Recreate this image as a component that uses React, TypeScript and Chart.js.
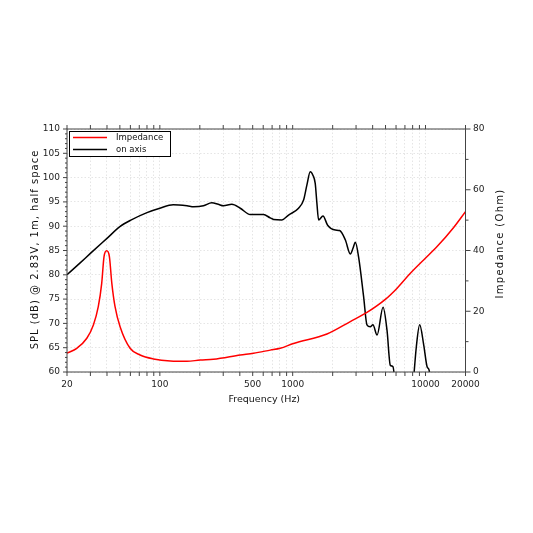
import { useEffect, useRef } from "react";
import { Chart, registerables } from "chart.js";

Chart.register(...registerables);

// on-axis SPL (dB), left axis
const splFreq = [
  20, 25, 30, 40, 50, 61, 80, 100, 126, 160, 180, 213, 246, 275, 301, 348, 403, 479, 569, 602, 678,
  718, 830, 931, 1107, 1208, 1280, 1356, 1420, 1478, 1522, 1567, 1691, 1833, 2094, 2256, 2490,
  2716, 2850, 2961, 3134, 3420, 3624, 3840, 4020, 4320, 4790, 5130, 5430, 5690, 5930, 7000, 8050,
  8530, 9040, 9690, 10280, 10640, 11000,
];
const splDb = [
  80.0, 82.4, 84.4, 87.5, 89.9, 91.3, 92.8, 93.7, 94.4, 94.2, 94.0, 94.2, 94.8, 94.5, 94.2, 94.5,
  93.7, 92.4, 92.4, 92.4, 91.7, 91.4, 91.3, 92.3, 93.7, 95.4, 98.5, 101.2, 100.5, 98.8, 94.7, 91.3,
  92.1, 90.2, 89.2, 89.1, 87.2, 84.3, 85.5, 86.7, 83.7, 75.5, 69.7, 69.3, 69.7, 67.6, 73.3, 68.6,
  61.4, 61.1, 57, null, 57, 65.2, 69.7, 65.6, 61.1, 60.4, 57,
];

// impedance (Ohm), right axis
const impFreq = [
  20, 23.7, 28.2, 31.6, 34.4, 36.5, 38, 39.8, 41.7, 43.5, 46, 50.2, 59.7, 71, 89.4, 120, 160, 201,
  253, 403, 507, 678, 806, 1015, 1812, 2716, 3624, 4980, 6110, 7690, 9680, 12220, 16290, 20000,
];
const impOhm = [
  6.2, 7.8, 11.1, 15.5, 21.5, 29.2, 38, 39.9, 38, 29.2, 21.5, 14.9, 7.8, 5.6, 4.3, 3.6, 3.5, 3.95,
  4.2, 5.6, 6.2, 7.2, 7.8, 9.4, 12.5, 16.6, 19.6, 23.9, 27.6, 32.5, 36.9, 41.3, 47.6, 52.8,
];

const gridFreqs = [
  20, 30, 40, 50, 60, 70, 80, 90, 100, 200, 300, 400, 500, 600, 700, 800, 900, 1000, 2000, 3000,
  4000, 5000, 6000, 7000, 8000, 9000, 10000, 20000,
];
const freqLabels = [20, 100, 500, 1000, 10000, 20000];
const splTicks = [60, 65, 70, 75, 80, 85, 90, 95, 100, 105, 110];
const impTicks = [0, 20, 40, 60, 80];

const seriesNames = ["Impedance", "on axis"];
const seriesColors = ["#ff0000", "#000000"];

const FONT = "DejaVu Sans";

const framePlugin = {
  id: "frame",
  afterDraw(chart: any) {
    const { ctx, chartArea: a, scales } = chart;
    ctx.save();
    ctx.strokeStyle = "#444";
    ctx.lineWidth = 1;
    ctx.strokeRect(a.left, a.top, a.right - a.left, a.bottom - a.top);

    ctx.beginPath();
    // x ticks, bottom and top, outside
    gridFreqs.forEach((f) => {
      const x = scales.x.getPixelForValue(f);
      ctx.moveTo(x, a.bottom);
      ctx.lineTo(x, a.bottom + 4);
      ctx.moveTo(x, a.top);
      ctx.lineTo(x, a.top - 4);
    });
    // left ticks every dB
    for (let v = 60; v <= 110; v++) {
      const y = scales.y.getPixelForValue(v);
      const len = v % 5 === 0 ? 4 : 2;
      ctx.moveTo(a.left, y);
      ctx.lineTo(a.left - len, y);
    }
    // right ticks every 10 ohm
    for (let v = 0; v <= 80; v += 10) {
      const y = scales.y1.getPixelForValue(v);
      const len = v % 20 === 0 ? 5 : 3;
      ctx.moveTo(a.right, y);
      ctx.lineTo(a.right + len, y);
    }
    ctx.stroke();

    // axis titles
    ctx.fillStyle = "#111";
    ctx.textAlign = "center";
    ctx.textBaseline = "middle";
    ctx.font = `10px ${FONT}`;
    ctx.save();
    (ctx as any).letterSpacing = "1px";
    ctx.translate(a.left - 32, (a.top + a.bottom) / 2 - 1);
    ctx.rotate(-Math.PI / 2);
    ctx.fillText("SPL (dB) @ 2.83V, 1m, half space", 0, 0);
    ctx.restore();
    ctx.save();
    (ctx as any).letterSpacing = "1.3px";
    ctx.translate(a.right + 34.5, (a.top + a.bottom) / 2 - 7);
    ctx.rotate(-Math.PI / 2);
    ctx.fillText("Impedance (Ohm)", 0, 0);
    ctx.restore();
    ctx.font = `9.5px ${FONT}`;
    ctx.fillText("Frequency (Hz)", (a.left + a.right) / 2 - 2, a.bottom + 28);

    // legend box inside the plot
    const bx = a.left + 2;
    const by = a.top + 2;
    ctx.fillStyle = "#fff";
    ctx.fillRect(bx, by, 101, 25);
    ctx.strokeStyle = "#000";
    ctx.strokeRect(bx + 0.5, by + 0.5, 101, 25);
    ctx.font = `8.5px ${FONT}`;
    ctx.textAlign = "left";
    seriesNames.forEach((name, i) => {
      const ly = by + 6.5 + i * 12;
      ctx.strokeStyle = seriesColors[i];
      ctx.lineWidth = 1.5;
      ctx.beginPath();
      ctx.moveTo(bx + 4, ly);
      ctx.lineTo(bx + 38, ly);
      ctx.stroke();
      ctx.fillStyle = "#111";
      ctx.fillText(name, bx + 47, ly);
    });
    ctx.restore();
  },
};

export default function App() {
  const chartRef = useRef<HTMLCanvasElement>(null);
  const chartInstance = useRef<Chart | null>(null);

  useEffect(() => {
    if (!chartRef.current) return;
    if (chartInstance.current) chartInstance.current.destroy();
    const ctx = chartRef.current.getContext("2d");
    if (!ctx) return;

    const gridLine = {
      color: "rgba(0,0,0,0.1)",
      lineWidth: 1,
      drawTicks: false,
    };

    chartInstance.current = new Chart(ctx, {
      type: "line",
      data: {
        datasets: [
          {
            label: seriesNames[0],
            data: impFreq.map((f, i) => ({ x: f, y: impOhm[i] })),
            yAxisID: "y1",
            borderColor: seriesColors[0],
            borderWidth: 1.5,
            pointRadius: 0,
            cubicInterpolationMode: "monotone",
          },
          {
            label: seriesNames[1],
            data: splFreq.map((f, i) => ({ x: f, y: splDb[i] })),
            yAxisID: "y",
            borderColor: seriesColors[1],
            borderWidth: 1.5,
            pointRadius: 0,
            spanGaps: false,
            cubicInterpolationMode: "monotone",
          },
        ],
      },
      options: {
        responsive: true,
        maintainAspectRatio: false,
        animation: false,
        layout: { padding: { top: 121, left: 0, right: 0, bottom: 0 } },
        plugins: { legend: { display: false }, tooltip: { enabled: false } },
        scales: {
          x: {
            type: "logarithmic",
            min: 20,
            max: 20000,
            afterBuildTicks: (s: any) => {
              s.ticks = gridFreqs.map((v) => ({ value: v }));
            },
            afterFit: (s: any) => {
              s.height = 153;
            },
            ticks: {
              autoSkip: false,
              maxRotation: 0,
              padding: 7,
              color: "#222",
              font: { family: FONT, size: 9 },
              callback: (v: any) => (freqLabels.includes(Number(v)) ? String(v) : ""),
            },
            grid: gridLine,
            border: { display: false, dash: [1.5, 2] },
          },
          y: {
            position: "left",
            min: 60,
            max: 110,
            afterBuildTicks: (s: any) => {
              s.ticks = splTicks.map((v) => ({ value: v }));
            },
            afterFit: (s: any) => {
              s.width = 59;
            },
            ticks: {
              padding: 7,
              color: "#222",
              font: { family: FONT, size: 9 },
            },
            grid: gridLine,
            border: { display: false, dash: [1.5, 2] },
          },
          y1: {
            position: "right",
            min: 0,
            max: 80,
            afterBuildTicks: (s: any) => {
              s.ticks = impTicks.map((v) => ({ value: v }));
            },
            afterFit: (s: any) => {
              s.width = 59.5;
            },
            ticks: {
              padding: 7.5,
              color: "#222",
              font: { family: FONT, size: 9 },
            },
            grid: { display: false, drawTicks: false },
            border: { display: false },
          },
        },
      },
      plugins: [framePlugin],
    } as any);

    return () => {
      if (chartInstance.current) {
        chartInstance.current.destroy();
        chartInstance.current = null;
      }
    };
  }, []);

  return (
    <div style={{ width: 517, height: 517, position: "relative" }}>
      <canvas ref={chartRef} />
    </div>
  );
}
